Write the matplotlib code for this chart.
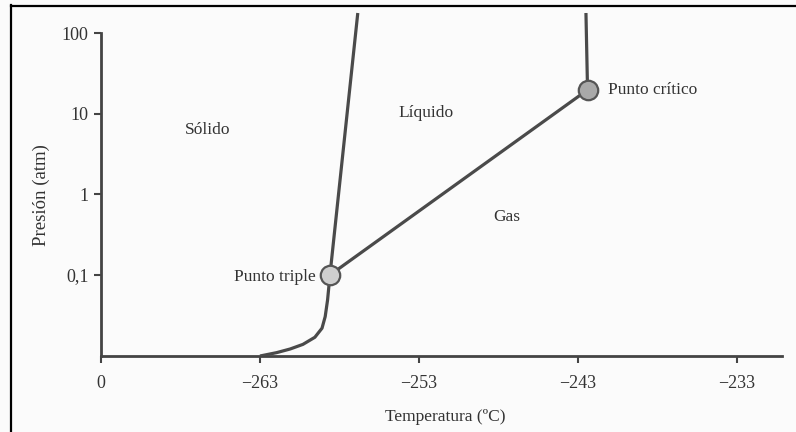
import numpy as np
import matplotlib
matplotlib.use("Agg")
import matplotlib.pyplot as plt
from matplotlib.lines import Line2D

# ---- data ----
x_ticks = [-273, -263, -253, -243, -233]
x_tick_labels = ["0", "\u2212263", "\u2212253", "\u2212243", "\u2212233"]
y_ticks = [0.1, 1, 10, 100]
y_tick_labels = ["0,1", "1", "10", "100"]

triple_T, triple_P = -258.6, 0.10
critical_T, critical_P = -242.4, 19.8

# sublimation curve (solid-gas), from axis up to triple point
subl_T = [-263.0, -261.95, -261.1, -260.3, -259.55, -259.1, -258.9, -258.75, -258.6]
subl_P = [0.0099, 0.0109, 0.0121, 0.0138, 0.0169, 0.0219, 0.0305, 0.0491, 0.10]
# melting curve (solid-liquid)
melt_T = [-258.6, -256.85]
melt_P = [0.10, 178]
# vaporisation curve (liquid-gas)
vap_T = [-258.6, -242.4]
vap_P = [0.10, 19.8]
# line above critical point
crit_T = [-242.4, -242.5]
crit_P = [19.8, 178]

region_labels = ["Sólido", "Líquido", "Gas"]
region_T = [-266.3, -252.55, -247.45]
region_P = [6.3, 10.3, 0.53]

plt.rcParams['font.family'] = ['Liberation Serif', 'DejaVu Serif']

W, H = 796, 432
fig = plt.figure(figsize=(W / 100, H / 100), dpi=100, facecolor='#fbfbfb')

# scan border (left and top)
fig.add_artist(Line2D([11 / W, 11 / W], [0, 1 - 5 / H], transform=fig.transFigure,
                      color='black', lw=1.6))
fig.add_artist(Line2D([11 / W, 1], [1 - 5.5 / H, 1 - 5.5 / H], transform=fig.transFigure,
                      color='black', lw=1.6))

ax_w_px = 782 - 101
ax_h_px = 356 - 13
ax = fig.add_axes([101 / W, 1 - 356 / H, ax_w_px / W, ax_h_px / H])
ax.set_facecolor('none')
ax.set_yscale('log')
ax.set_xlim(-273, -230.17)
ax.set_ylim(0.0099, 178)

line_c = '#4a4a4a'
lw = 2.3
ax.plot(subl_T, subl_P, color=line_c, lw=lw, solid_capstyle='butt', zorder=3)
ax.plot(melt_T, melt_P, color=line_c, lw=lw, solid_capstyle='butt', zorder=3, clip_on=False)
ax.plot(vap_T, vap_P, color=line_c, lw=lw, zorder=3)
ax.plot(crit_T, crit_P, color=line_c, lw=lw, solid_capstyle='butt', zorder=3, clip_on=False)

ax.plot([triple_T], [triple_P], 'o', ms=14, mfc='#cfcfcf', mec='#555555', mew=1.6, zorder=4)
ax.plot([critical_T], [critical_P], 'o', ms=14, mfc='#a9a9a9', mec='#555555', mew=1.6, zorder=4)

txt_c = '#333333'
fs = 12.5
for lab, t, p in zip(region_labels, region_T, region_P):
    ax.text(t, p, lab, ha='center', va='center', fontsize=fs, color=txt_c)
ax.text(-241.1, critical_P, "Punto crítico", ha='left', va='center', fontsize=fs, color=txt_c)
ax.text(-259.5, 0.095, "Punto triple", ha='right', va='center', fontsize=fs, color=txt_c)

# axes styling
for s in ['top', 'right']:
    ax.spines[s].set_visible(False)
for s in ['left', 'bottom']:
    ax.spines[s].set_color('#444444')
    ax.spines[s].set_linewidth(2.0)
ax.spines['left'].set_bounds(0.0099, 100)

ax.set_xticks(x_ticks)
ax.set_xticklabels(x_tick_labels)
ax.set_yticks(y_ticks)
ax.set_yticklabels(y_tick_labels)
ax.yaxis.set_minor_locator(matplotlib.ticker.NullLocator())
ax.tick_params(axis='both', direction='out', length=5, width=1.5, color='#444444',
               labelsize=13, labelcolor=txt_c)
ax.tick_params(axis='x', pad=9)
ax.tick_params(axis='y', pad=4)

ax.set_xlabel("Temperatura (ºC)", fontsize=12.5, color=txt_c)
ax.xaxis.label.set_va('center')
ax.xaxis.set_label_coords((445 - 101) / ax_w_px, -(417 - 356) / ax_h_px)
ax.set_ylabel("Presión (atm)", fontsize=13.5, color=txt_c)
ax.yaxis.label.set_va('center')
ax.yaxis.set_label_coords(-(101 - 41) / ax_w_px, (356 - 195) / ax_h_px)

fig.savefig("out.png", dpi=100, facecolor=fig.get_facecolor())
